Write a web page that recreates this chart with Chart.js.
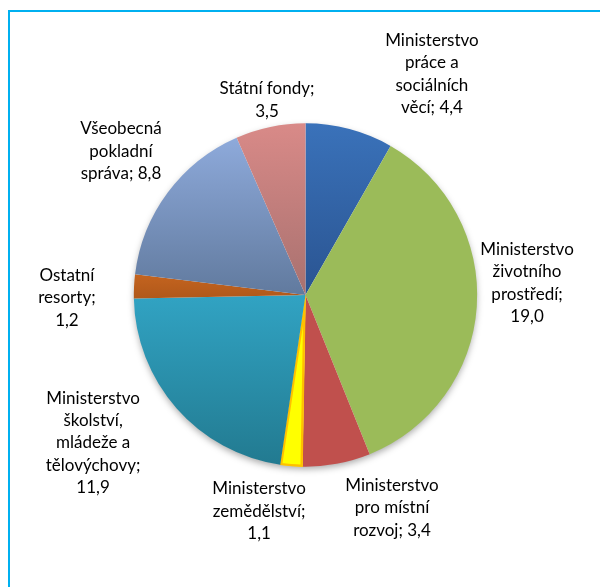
<!DOCTYPE html>
<html>
<head>
<meta charset="utf-8">
<script src="https://cdn.jsdelivr.net/npm/chart.js@4/dist/chart.umd.min.js"></script>
<style>
  html, body { margin: 0; padding: 0; background: #fff; overflow: hidden; }
  #wrap { position: relative; width: 600px; height: 587px; }
  #frame { position: absolute; left: 8px; top: 10px; width: 700px; height: 700px; border: 2px solid #00b0f0; box-sizing: border-box; }
  #chart { position: absolute; left: 0; top: 0; }
</style>
</head>
<body>
<div id="wrap">
  <div id="frame"></div>
  <canvas id="chart" width="600" height="587"></canvas>
</div>
<script>
// data (mld. Kč)
const categories = [
  "Ministerstvo\npráce a\nsociálních\nvěcí",
  "Ministerstvo\nživotního\nprostředí",
  "Ministerstvo\npro místní\nrozvoj",
  "Ministerstvo\nzemědělství",
  "Ministerstvo\nškolství,\nmládeže a\ntělovýchovy",
  "Ostatní\nresorty",
  "Všeobecná\npokladní\nspráva",
  "Státní fondy"
];
const values = [4.4, 19.0, 3.4, 1.1, 11.9, 1.2, 8.8, 3.5];
// whether the value sits on its own line
const valueOnNewLine = [false, true, false, true, true, true, false, true];

const topColors    = ["#3a72ba", "#9bbb59", "#c0504d", "#ffff00", "#31a3c3", "#c4641f", "#8eaadb", "#d98a88"];
const bottomColors = ["#2a5491", "#9bbb59", "#c0504d", "#ffff00", "#227a90", "#b0581a", "#617a9e", "#a8716f"];
// label block centre, relative to pie centre, in units of radius
const labelOffsets = [
  [0.735, -1.285], [1.288, -0.07], [0.503, 1.238], [-0.27, 1.256],
  [-1.235, 0.86], [-1.387, 0.017], [-1.073, -0.837], [-0.224, -1.134]
];

function fmt(v){
  return v.toFixed(1).replace(".", ",");
}

function sliceGradient(context){
  const chart = context.chart;
  const i = context.dataIndex;
  const area = chart.chartArea;
  if(!area) return topColors[i];
  const cx = (area.left + area.right) / 2;
  const cy = (area.top + area.bottom) / 2;
  const r = Math.min(area.width, area.height) / 2;
  const total = values.reduce((a, b) => a + b, 0);
  let start = 0;
  for(let k = 0; k < i; k++) start += values[k];
  const a0 = start / total * 360;
  const a1 = (start + values[i]) / total * 360;
  const c0 = Math.cos(a0 * Math.PI / 180), c1 = Math.cos(a1 * Math.PI / 180);
  let cmax = Math.max(c0, c1, 0), cmin = Math.min(c0, c1, 0);
  if(a0 <= 0 || a1 >= 360) cmax = 1;
  if(a0 <= 180 && a1 >= 180) cmin = -1;
  const g = chart.ctx.createLinearGradient(0, cy - r * cmax, 0, cy - r * cmin);
  g.addColorStop(0, topColors[i]);
  g.addColorStop(1, bottomColors[i]);
  return g;
}

const shadowPlugin = {
  id: "pieShadow",
  beforeDatasetsDraw(chart){
    const arc = chart.getDatasetMeta(0).data[0];
    if(!arc) return;
    const ctx = chart.ctx;
    ctx.save();
    ctx.shadowColor = "rgba(0,0,0,0.35)";
    ctx.shadowBlur = 7;
    ctx.shadowOffsetY = 3;
    ctx.fillStyle = "#ffffff";
    ctx.beginPath();
    ctx.arc(arc.x, arc.y, arc.outerRadius - 1, 0, Math.PI * 2);
    ctx.fill();
    ctx.restore();
  }
};

const labelPlugin = {
  id: "sliceLabels",
  afterDatasetsDraw(chart){
    const meta = chart.getDatasetMeta(0);
    const ctx = chart.ctx;
    ctx.save();
    ctx.font = "17px Lato";
    ctx.fillStyle = "#000000";
    ctx.textAlign = "center";
    ctx.textBaseline = "middle";
    const lineH = 22.3;
    meta.data.forEach((arc, i) => {
      let lines = categories[i].split("\n");
      if(valueOnNewLine[i]){
        lines[lines.length - 1] += ";";
        lines.push(fmt(values[i]));
      } else {
        lines[lines.length - 1] += "; " + fmt(values[i]);
      }
      const x = arc.x + labelOffsets[i][0] * arc.outerRadius;
      const y = arc.y + labelOffsets[i][1] * arc.outerRadius;
      const y0 = y - (lines.length - 1) * lineH / 2;
      lines.forEach((t, j) => ctx.fillText(t, x, y0 + j * lineH));
    });
    ctx.restore();
  }
};

new Chart(document.getElementById("chart"), {
  type: "pie",
  data: {
    labels: categories,
    datasets: [{
      data: values,
      backgroundColor: sliceGradient,
      borderColor: values.map((_, i) => i === 3 ? "#ffc000" : "rgba(0,0,0,0)"),
      borderWidth: values.map((_, i) => i === 3 ? 2 : 0),
      borderAlign: "inner"
    }]
  },
  options: {
    responsive: false,
    animation: false,
    layout: { padding: { left: 133, right: 122, top: 123, bottom: 120 } },
    plugins: {
      legend: { display: false },
      tooltip: { enabled: false }
    }
  },
  plugins: [shadowPlugin, labelPlugin]
});
</script>
</body>
</html>
